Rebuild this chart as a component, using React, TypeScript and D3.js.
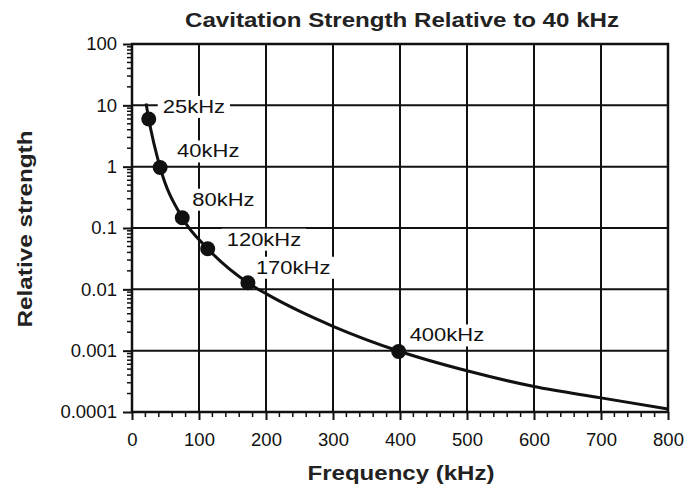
import React, { useEffect, useRef } from "react";
import * as d3 from "d3";

// curve (kHz, relative strength)
const curveFreq = [21, 25, 42, 75, 113, 173, 200, 250, 300, 400, 500, 600, 700, 800];
const curveValue = [10.7, 6.0, 0.97, 0.147, 0.046, 0.0128, 0.0085, 0.0044, 0.0025, 0.00097, 0.00047, 0.00026, 0.00017, 0.000112];

// labelled points
const markerLabels = ["25kHz", "40kHz", "80kHz", "120kHz", "170kHz", "400kHz"];
const markerFreq = [25, 42, 75, 113, 173, 398];
const markerValue = [6.0, 0.97, 0.147, 0.046, 0.0128, 0.00097];

const xTicks = [0, 100, 200, 300, 400, 500, 600, 700, 800];
const yTicks = [0.0001, 0.001, 0.01, 0.1, 1, 10, 100];
const yTickLabels = ["0.0001", "0.001", "0.01", "0.1", "1", "10", "100"];

const title = "Cavitation Strength Relative to 40 kHz";
const xTitle = "Frequency (kHz)";
const yTitle = "Relative strength";

// label placement relative to its marker, px
const labelOffset: [number, number][] = [[14, -6], [17, -10], [10, -12], [19, -3], [8, -9], [11, -10]];

const FONT = "'Liberation Sans', Arial, Helvetica, sans-serif";

export default function App() {
  const ref = useRef<SVGSVGElement | null>(null);

  useEffect(() => {
    const svg = d3.select(ref.current);
    svg.selectAll("*").remove();

    const x = d3.scaleLinear().domain([0, 800]).range([132, 668]);
    const y = d3.scaleLog().domain([0.0001, 100]).range([412, 44]);
    const [x0, x1] = x.range();
    const [y0, y1] = y.range();

    // stretch text to match the wide lettering of the original
    const stretch = (t: any, k: number) => {
      const w = (t.node() as SVGTextElement).getComputedTextLength();
      t.attr("textLength", w * k).attr("lengthAdjust", "spacingAndGlyphs");
      return w * k;
    };

    svg.append("rect").attr("width", 687).attr("height", 490).attr("fill", "#fff");

    // grid
    svg.append("g")
      .selectAll("line")
      .data(xTicks.slice(1, -1))
      .join("line")
      .attr("x1", (d) => x(d)).attr("x2", (d) => x(d))
      .attr("y1", y1).attr("y2", y0)
      .attr("stroke", "#111").attr("stroke-width", 2);
    svg.append("g")
      .selectAll("line")
      .data(yTicks.slice(1, -1))
      .join("line")
      .attr("x1", x0).attr("x2", x1)
      .attr("y1", (d) => y(d)).attr("y2", (d) => y(d))
      .attr("stroke", "#111").attr("stroke-width", 2);

    // minor ticks
    const yMinor: number[] = [];
    yTicks.slice(0, -1).forEach((d) => {
      for (let m = 2; m <= 9; m++) yMinor.push(d * m);
    });
    svg.append("g")
      .selectAll("line")
      .data(yMinor)
      .join("line")
      .attr("x1", x0 - 5).attr("x2", x0)
      .attr("y1", (d) => y(d)).attr("y2", (d) => y(d))
      .attr("stroke", "#111").attr("stroke-width", 1.5);
    const xMinor = d3.range(0, 801, 20).filter((d) => d % 100 !== 0);
    svg.append("g")
      .selectAll("line")
      .data(xMinor)
      .join("line")
      .attr("x1", (d) => x(d)).attr("x2", (d) => x(d))
      .attr("y1", y0).attr("y2", y0 + 5)
      .attr("stroke", "#111").attr("stroke-width", 1.5);

    // axes
    const ax = svg.append("g")
      .attr("transform", `translate(0,${y0})`)
      .call(d3.axisBottom(x).tickValues(xTicks).tickSize(8).tickSizeOuter(0).tickPadding(13));
    const ay = svg.append("g")
      .attr("transform", `translate(${x0},0)`)
      .call(
        d3.axisLeft(y)
          .tickValues(yTicks)
          .tickFormat((_d, i) => yTickLabels[i])
          .tickSize(9)
          .tickSizeOuter(0)
          .tickPadding(6)
      );
    [ax, ay].forEach((a) => {
      a.select(".domain").remove();
      a.selectAll("line").attr("stroke", "#111").attr("stroke-width", 2);
      a.selectAll("text").attr("font-family", FONT).attr("font-size", 18.5).attr("fill", "#111");
    });

    // frame
    svg.append("rect")
      .attr("x", x0).attr("y", y1)
      .attr("width", x1 - x0).attr("height", y0 - y1)
      .attr("fill", "none").attr("stroke", "#111").attr("stroke-width", 2.5);

    // point labels with white boxes
    const labels = svg.append("g");
    markerLabels.forEach((lab, i) => {
      const px = x(markerFreq[i]) + labelOffset[i][0];
      const py = y(markerValue[i]) + labelOffset[i][1];
      const box = labels.append("rect").attr("fill", "#fff");
      const t = labels.append("text")
        .attr("x", px).attr("y", py)
        .attr("font-family", FONT).attr("font-size", 18).attr("fill", "#111")
        .text(lab);
      const w = stretch(t, 1.22);
      box.attr("x", px - 5).attr("y", py - 17).attr("width", w + 10).attr("height", 22);
    });

    // curve
    const pts = curveFreq.map((f, i) => [x(f), y(curveValue[i])] as [number, number]);
    svg.append("path")
      .attr("d", d3.line().curve(d3.curveMonotoneX)(pts))
      .attr("fill", "none").attr("stroke", "#111").attr("stroke-width", 3);

    svg.append("g")
      .selectAll("circle")
      .data(markerFreq)
      .join("circle")
      .attr("cx", (d) => x(d))
      .attr("cy", (_d, i) => y(markerValue[i]))
      .attr("r", 7.5)
      .attr("fill", "#111");

    // titles
    svg.append("text")
      .attr("x", 402).attr("y", 27)
      .attr("text-anchor", "middle")
      .attr("font-family", FONT).attr("font-size", 20).attr("font-weight", "bold").attr("fill", "#222")
      .attr("textLength", 434).attr("lengthAdjust", "spacingAndGlyphs")
      .text(title);

    svg.append("text")
      .attr("x", 401).attr("y", 480)
      .attr("text-anchor", "middle")
      .attr("font-family", FONT).attr("font-size", 20).attr("font-weight", "bold").attr("fill", "#222")
      .attr("textLength", 187).attr("lengthAdjust", "spacingAndGlyphs")
      .text(xTitle);

    svg.append("text")
      .attr("transform", `translate(32,229) rotate(-90)`)
      .attr("text-anchor", "middle")
      .attr("font-family", FONT).attr("font-size", 20).attr("font-weight", "bold").attr("fill", "#222")
      .attr("textLength", 197).attr("lengthAdjust", "spacingAndGlyphs")
      .text(yTitle);
  }, []);

  return (
    <svg
      ref={ref}
      width={687}
      height={490}
      style={{ position: "absolute", left: 0, top: 0, display: "block" }}
    />
  );
}
